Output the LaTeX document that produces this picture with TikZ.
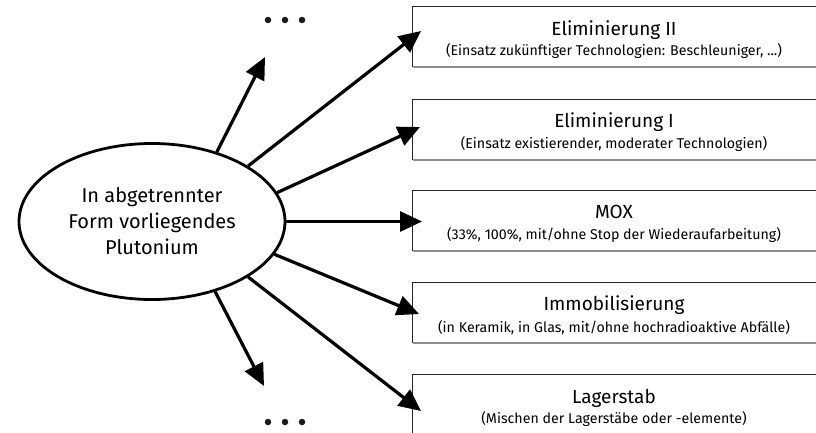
\documentclass[tikz,border=0pt]{standalone}
\usepackage{fontspec}
\setmainfont{Fira Sans}
\usetikzlibrary{arrows.meta,shapes.geometric}
\begin{document}
\begin{tikzpicture}[x=1pt,y=-1pt,
  ell/.style={draw, line width=2.8pt, ellipse, minimum width=266pt, minimum height=156pt, inner sep=0pt, align=center, font=\fontsize{20}{26}\selectfont},
  optbox/.style={rectangle, minimum width=417pt, minimum height=60pt, inner sep=0pt},
  ttl/.style={font=\fontsize{19}{21}\selectfont, inner sep=0pt, anchor=base},
  sub/.style={font=\fontsize{14.2}{16}\selectfont, inner sep=0pt, anchor=base},
  arr/.style={line width=3.2pt, -{Triangle[length=22pt,width=20pt]}},
  dot/.style={circle, fill=black!90, inner sep=0pt, minimum size=6.5pt}
]
\useasboundingbox (0,0) rectangle (816,432);
\clip (0,0) rectangle (816,432);

% central ellipse
\node[ell] (pu) at (152,221.5) {In abgetrennter\\Form vorliegendes\\Plutonium};

% boxes
\foreach \n/\cy in {b1/37, b2/129.5, b3/220.5, b4/313, b5/405}{
  \node[optbox] (\n) at (621.5,\cy) {};
  \draw[line width=0.9pt, black!85] (\n.south west) -- (\n.north west) -- (\n.north east);
  \draw[line width=2pt, black!45] (\n.south west) -- (\n.south east);
}

\node[ttl] at (614,35) {Eliminierung II};
\node[sub] at (614,55) {(Einsatz zukünftiger Technologien: Beschleuniger, ...)};
\node[ttl] at (614,127) {Eliminierung I};
\node[sub] at (614,148) {(Einsatz existierender, moderater Technologien)};
\node[ttl] at (614,218) {MOX};
\node[sub] at (614,239) {(33\%, 100\%, mit/ohne Stop der Wiederaufarbeitung)};
\node[ttl] at (614,310) {Immobilisierung};
\node[sub] at (614,332) {(in Keramik, in Glas, mit/ohne hochradioaktive Abfälle)};
\node[ttl] at (614,403) {Lagerstab};
\node[sub] at (614,423) {(Mischen der Lagerstäbe oder -elemente)};

% dots
\foreach \x/\n in {268/t1, 285/t2, 302/t3}{
  \node[dot] (\n) at (\x,20) {};
}
\foreach \x/\n in {268/u1, 285/u2, 302/u3}{
  \node[dot] (\n) at (\x,422) {};
}

% arrow end points
\coordinate (eTop) at (265,57);
\coordinate (e1) at (421,31);
\coordinate (e2) at (420,127);
\coordinate (e3) at (422,221.5);
\coordinate (e4) at (419,314);
\coordinate (e5) at (421,411);
\coordinate (eBot) at (264,386);

\draw[arr] (pu.47.7) -- (eTop);
\draw[arr] (pu.30) -- (e1);
\draw[arr] (pu.13.7) -- (e2);
\draw[arr] (pu.0) -- (e3);
\draw[arr] (pu.-15) -- (e4);
\draw[arr] (pu.-30.8) -- (e5);
\draw[arr] (pu.-48.5) -- (eBot);
\end{tikzpicture}
\end{document}
